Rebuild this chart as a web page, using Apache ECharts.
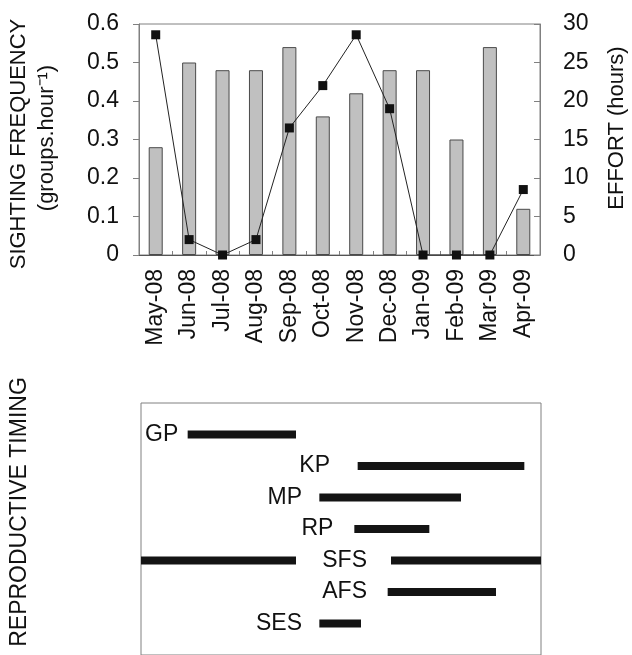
<!DOCTYPE html>
<html>
<head>
<meta charset="utf-8">
<script src="https://cdn.jsdelivr.net/npm/echarts@6/dist/echarts.min.js"></script>
<style>
  html, body { margin: 0; padding: 0; background: #fff; }
  #chart { width: 632px; height: 655px; }
</style>
</head>
<body>
<div id="chart"></div>
<script>
const months = ['May-08', 'Jun-08', 'Jul-08', 'Aug-08', 'Sep-08', 'Oct-08', 'Nov-08', 'Dec-08', 'Jan-09', 'Feb-09', 'Mar-09', 'Apr-09'];
const sighting = [0.28, 0.50, 0.48, 0.48, 0.54, 0.36, 0.42, 0.48, 0.48, 0.30, 0.54, 0.12];
const effort = [28.6, 2, 0, 2, 16.5, 22, 28.6, 19, 0, 0, 0, 8.5];

// reproductive phases, row order top to bottom
const phases = ['GP', 'KP', 'MP', 'RP', 'SFS', 'AFS', 'SES'];
// [phase index, start month, end month] on a 0..12 month scale
const phaseSpans = [
  [0, 1.4, 4.65],
  [1, 6.5, 11.5],
  [2, 5.35, 9.6],
  [3, 6.4, 8.65],
  [4, 0, 4.65],
  [4, 7.5, 12],
  [5, 7.4, 10.65],
  [6, 5.35, 6.6]
];
// month where each phase label ends
const phaseLabelAt = [1.12, 5.67, 4.83, 5.77, 6.78, 6.78, 4.83];

const chart = echarts.init(document.getElementById('chart'));

const ink = '#111';
const frame = '#808080';
const font = "'Liberation Sans', Arial, sans-serif";

const titleText = (x, y, text, size) => ({
  type: 'text',
  x: x,
  y: y,
  rotation: Math.PI / 2,
  style: {
    text: text,
    fill: ink,
    font: size + 'px ' + font,
    align: 'center',
    verticalAlign: 'middle'
  }
});

chart.setOption({
  animation: false,
  textStyle: { fontFamily: font },
  grid: [
    { left: 139, top: 24, width: 401, height: 231, show: true, borderColor: frame, borderWidth: 1 },
    { left: 141, top: 403, width: 400, height: 256, show: true, borderColor: frame, borderWidth: 1 }
  ],
  xAxis: [
    {
      type: 'category',
      gridIndex: 0,
      data: months,
      axisLine: { lineStyle: { color: '#555', width: 1 } },
      axisTick: { show: true, inside: true, length: 4, lineStyle: { color: frame } },
      axisLabel: { rotate: 90, fontSize: 23, color: ink, margin: 14 }
    },
    {
      type: 'value',
      gridIndex: 1,
      min: 0,
      max: 12,
      show: false
    }
  ],
  yAxis: [
    {
      type: 'value',
      gridIndex: 0,
      min: 0,
      max: 0.6,
      interval: 0.1,
      axisLine: { show: true, lineStyle: { color: frame } },
      axisTick: { show: true, length: 6, lineStyle: { color: frame } },
      axisLabel: { fontSize: 23, color: ink, margin: 20, formatter: v => v === 0 ? '0' : v.toFixed(1) },
      splitLine: { show: false }
    },
    {
      type: 'value',
      gridIndex: 0,
      position: 'right',
      min: 0,
      max: 30,
      interval: 5,
      axisLine: { show: true, lineStyle: { color: frame } },
      axisTick: { show: true, inside: true, length: 6, lineStyle: { color: frame } },
      axisLabel: { fontSize: 23, color: ink, margin: 23 },
      splitLine: { show: false }
    },
    {
      type: 'value',
      gridIndex: 1,
      min: 0,
      max: 8,
      inverse: true,
      show: false
    }
  ],
  graphic: [
    titleText(19, 144, 'SIGHTING FREQUENCY', 22),
    titleText(47, 138, '(groups.hour\u207B\u00B9)', 22),
    titleText(617, 128, 'EFFORT (hours)', 22),
    titleText(20, 512, 'REPRODUCTIVE TIMING', 23)
  ],
  series: [
    {
      type: 'bar',
      xAxisIndex: 0,
      yAxisIndex: 0,
      data: sighting,
      barWidth: 14,
      itemStyle: { color: '#c0c0c0', borderColor: '#4a4a4a', borderWidth: 1 }
    },
    {
      type: 'line',
      xAxisIndex: 0,
      yAxisIndex: 1,
      data: effort,
      symbol: 'rect',
      symbolSize: 9,
      itemStyle: { color: '#111' },
      lineStyle: { color: '#222', width: 1 }
    },
    {
      type: 'custom',
      xAxisIndex: 1,
      yAxisIndex: 2,
      data: phaseSpans.map(s => [s[1], s[2], s[0] + 1]),
      encode: { x: [0, 1], y: 2 },
      renderItem: (params, api) => {
        const a = api.coord([api.value(0), api.value(2)]);
        const b = api.coord([api.value(1), api.value(2)]);
        return {
          type: 'rect',
          shape: { x: a[0], y: a[1] - 4, width: b[0] - a[0], height: 8 },
          style: { fill: '#141414' }
        };
      }
    },
    {
      type: 'scatter',
      xAxisIndex: 1,
      yAxisIndex: 2,
      symbolSize: 0,
      itemStyle: { opacity: 1 },
      data: phases.map((p, i) => [phaseLabelAt[i], i + 1]),
      label: {
        show: true,
        position: 'left',
        distance: 0,
        fontSize: 23,
        color: ink,
        formatter: p => phases[p.dataIndex]
      }
    }
  ]
});
</script>
</body>
</html>
